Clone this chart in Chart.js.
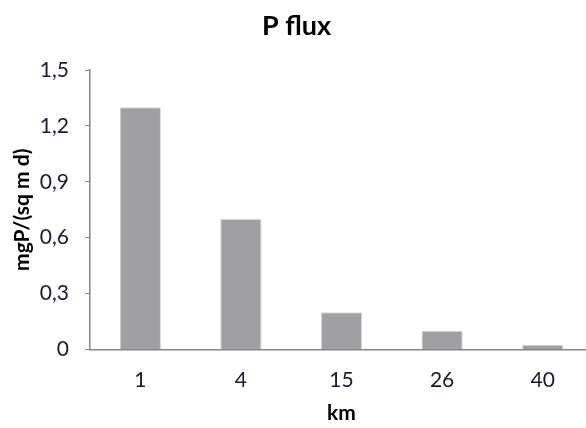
<!DOCTYPE html>
<html>
<head>
<meta charset="utf-8">
<script src="https://cdn.jsdelivr.net/npm/chart.js@4/dist/chart.umd.min.js"></script>
<style>
  html, body { margin: 0; padding: 0; background: #fff; overflow: hidden; }
  #wrap { width: 586px; height: 428px; overflow: hidden; }
  #wrap div { width: 600px; height: 428px; }
</style>
</head>
<body>
<div id="wrap"><div><canvas id="bar"></canvas></div></div>
<script>
const kmLabels = ['1', '4', '15', '26', '40'];
const pFlux = [1.3, 0.7, 0.2, 0.1, 0.025];
const yTicks = [0, 0.3, 0.6, 0.9, 1.2, 1.5];

const textColor = '#1a1a2e';
const axisColor = '#868686';

const ctx = document.getElementById('bar').getContext('2d');
const bar = new Chart(ctx, {
    type: 'bar',
    data: {
        labels: kmLabels,
        datasets: [{
            label: 'P flux',
            data: pFlux,
            backgroundColor: '#a09fa4',
            borderColor: '#d6d6d8',
            borderWidth: 1,
            borderSkipped: 'bottom',
            categoryPercentage: 1,
            barPercentage: 0.41
        }]
    },
    options: {
        responsive: true,
        maintainAspectRatio: false,
        animation: false,
        layout: { padding: { left: 0, right: 7, top: 0, bottom: 0 } },
        plugins: {
            legend: { display: false },
            tooltip: { enabled: false },
            title: {
                display: true,
                text: 'P flux',
                color: '#000',
                font: { family: 'Lato', size: 27, weight: 'bold' },
                padding: { top: 10, bottom: 27.6 }
            }
        },
        scales: {
            x: {
                grid: { display: false, drawTicks: false },
                border: { display: true, color: axisColor, width: 1.5 },
                ticks: {
                    color: textColor,
                    font: { family: 'Lato', size: 21 },
                    padding: 18.5
                },
                title: {
                    display: true,
                    text: 'km',
                    color: '#000',
                    font: { family: 'Lato', size: 21, weight: 'bold' },
                    padding: { top: 0, bottom: 2.4 }
                },
                afterFit: s => { s.height = 78.5; }
            },
            y: {
                min: 0,
                max: 1.5,
                afterBuildTicks: s => { s.ticks = yTicks.map(v => ({ value: v })); },
                grid: {
                    drawOnChartArea: false,
                    drawTicks: true,
                    tickLength: 5,
                    color: axisColor
                },
                border: { display: true, color: axisColor, width: 1.5 },
                ticks: {
                    color: textColor,
                    font: { family: 'Lato', size: 21 },
                    padding: 16,
                    callback: v => v === 0 ? '0' : v.toFixed(1).replace('.', ',')
                },
                title: {
                    display: true,
                    text: 'mgP/(sq m d)',
                    color: '#000',
                    font: { family: 'Lato', size: 21, weight: 'bold' },
                    padding: { top: 9.5, bottom: 0 }
                },
                afterFit: s => { s.width = 90; }
            }
        }
    }
});
</script>
</body>
</html>
